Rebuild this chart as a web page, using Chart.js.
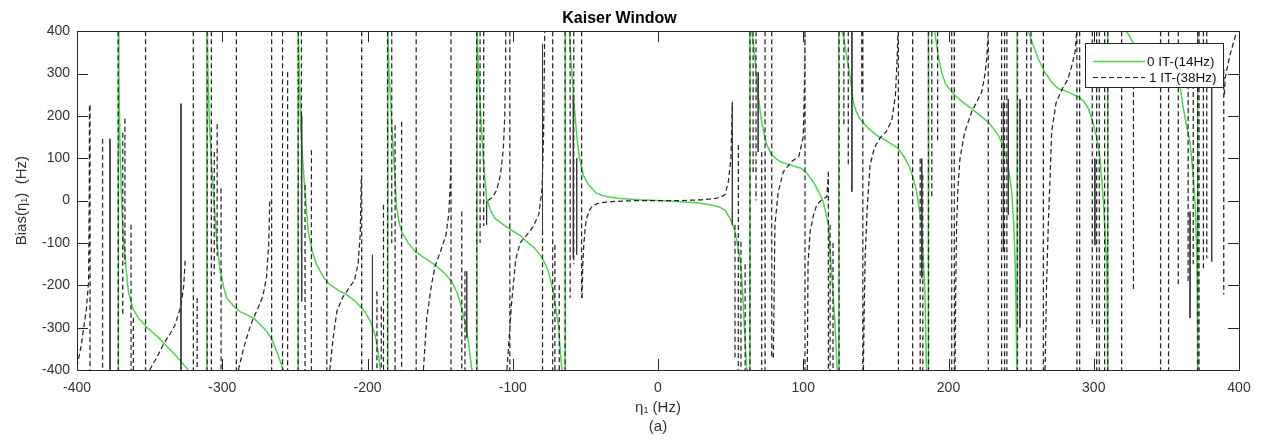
<!DOCTYPE html>
<html>
<head>
<meta charset="utf-8">
<script src="https://cdn.jsdelivr.net/npm/chart.js@4.4.1/dist/chart.umd.min.js"></script>
<style>
  html, body { margin: 0; padding: 0; background: #fff; }
  #plot { display: block; }
</style>
</head>
<body>
<canvas id="plot" width="1269" height="445"></canvas>
<script>
// axis ticks
var xTicks = [-400, -300, -200, -100, 0, 100, 200, 300, 400];
var yTicks = [-400, -300, -200, -100, 0, 100, 200, 300, 400];

// 0 IT-(14Hz): jumps at the poles, then the falling branches between them
var greenPoles = [-371.5, -310.3, -247.7, -186.0, -124.6, -63.8, 63.3, 124.6, 186.2, 247.2, 309.7, 371.6];
var greenCurves = [
  [[-371.4,400],[-371.2,300],[-370.5,150],[-369.5,20],[-368.3,-80],[-366.5,-150],[-364.6,-215],[-361.5,-255],[-357.8,-277],[-353,-295],[-348.6,-309],[-344,-323],[-339.4,-340],[-335,-355],[-330.3,-372],[-323.4,-400]],
  [[-310.2,400],[-309.8,300],[-308.8,180],[-307.5,90],[-306.1,21],[-303.8,-97],[-301.6,-160],[-299,-205],[-296.9,-230],[-292,-250],[-287.8,-262],[-283,-270],[-278.6,-277],[-274,-292],[-269.4,-309],[-265.5,-330],[-262.5,-356],[-258,-400]],
  [[-247.6,400],[-247,300],[-246,180],[-244.5,90],[-243,21],[-240.8,-73],[-238,-120],[-235,-152],[-230,-182],[-225.8,-199],[-220,-212],[-214.3,-222],[-209,-236],[-205,-250],[-201.5,-264],[-198,-285],[-194.8,-316],[-192.5,-360],[-191.2,-400]],
  [[-185.9,400],[-185.2,300],[-184,230],[-183.3,178],[-181.5,80],[-179.9,-18],[-178,-55],[-176.5,-73],[-172,-100],[-167.3,-120],[-160,-137],[-153.5,-152],[-147.5,-170],[-142,-191],[-138,-220],[-135.1,-254],[-132.5,-295],[-130.6,-332],[-128.3,-395],[-128.1,-400]],
  [[-124.5,400],[-123.5,300],[-122,200],[-120.3,99],[-118,5],[-115,-25],[-112.2,-42],[-106,-58],[-100.7,-70],[-95,-82],[-90.4,-97],[-85,-112],[-81.2,-128],[-77.5,-150],[-75.5,-167],[-72.1,-215],[-68.6,-293],[-66.3,-395],[-66.1,-400]],
  [[-61,400],[-60,335],[-58,240],[-56,154],[-54,100],[-51.4,60],[-48,38],[-42.2,17],[-35,9],[-26,5],[-13,2],[0,0],[13,-2],[26,-5],[35,-9],[42,-15],[46,-22],[50,-45],[53,-73],[56.4,-135],[58,-200],[59.4,-293],[61,-395],[61.2,-400]],
  [[64.5,400],[66.8,335],[68.5,260],[71.4,185],[74.5,135],[78.3,107],[84,92],[90,85],[98.9,76],[103,62],[106.9,44],[110.5,22],[113.8,-3],[117.3,-58],[119.6,-175],[121.9,-293],[123.3,-400]],
  [[126.5,400],[127.6,390],[130,340],[132.2,295],[134.5,232],[136.5,210],[139,193],[145,170],[150.6,154],[158,140],[165.5,123],[170,100],[173.5,76],[176,50],[178.1,21],[181.5,-58],[183.8,-215],[184.8,-400]],
  [[190.5,400],[193,340],[195.5,300],[198,275],[204.5,248],[210,232],[216,217],[222,200],[227.4,185],[231,170],[234.3,154],[237.5,130],[240,99],[242,60],[243.5,21],[245,-60],[245.8,-136],[246.5,-250],[247,-371],[247.1,-400]],
  [[255,400],[258,370],[261.8,335],[266.4,303],[271,280],[275.6,264],[281.4,258],[289.3,245],[293,235],[296.3,217],[299,190],[302,150],[304.3,100],[306.6,1],[309,-156],[309.4,-300],[309.6,-400]],
  [[322.6,400],[327,373],[333,352],[340,330],[347,310],[353,292],[359.4,270],[361.7,217],[364,175],[366.3,138],[368.5,60],[370,-20],[371,-136],[371.4,-300],[371.5,-400]]
];

// 1 IT-(38Hz): rising branches
var blackCurves = [
  [[-400,-392],[-397,-340],[-393.5,-255],[-392,-190],[-391.6,0],[-391.4,225]],
  [[-350,-400],[-345,-370],[-340.6,-340],[-336,-315],[-332.5,-293],[-328.5,-250],[-326.5,-200],[-325.5,-140]],
  [[-288.9,-400],[-285,-345],[-281,-300],[-278.6,-278],[-275.5,-255],[-272,-225],[-269.5,-180],[-268,-100],[-267.3,0]],
  [[-226,-400],[-223.5,-320],[-221,-260],[-217,-228],[-213,-208],[-209,-188],[-206.5,-150],[-205,-80],[-204.3,50]],
  [[-161.5,-400],[-159.2,-277],[-156,-200],[-153.5,-155],[-150,-122],[-146,-82],[-144,-30],[-142.8,60],[-142.5,150]],
  [[-117,0],[-114,8],[-111,25],[-108.5,60],[-106.5,120],[-105.5,200],[-105,300],[-104.8,400]],
  [[-104,-400],[-101,-250],[-98,-140],[-95,-100],[-90.5,-82],[-86,-62],[-82,-32],[-79.8,30],[-78.8,150],[-78.3,300],[-78,400]],
  [[-52.3,-230],[-51.8,-150],[-51,-100],[-50,-60],[-49,-40],[-47,-22],[-45,-12],[-40,-5],[-30,-2],[-15,0],[0,0],[15,0],[30,2],[40,5],[44,10],[46.1,14],[48.4,44],[50.2,99],[51.2,233]],
  [[79.4,-371],[80.5,-57],[82.8,21],[86.3,68],[92,92],[97,105],[100,150],[101,300],[101.2,400]],
  [[102.8,-400],[103.3,-150],[104.7,-73],[107,-35],[109.3,-10],[113,3],[116.2,9],[117.3,60]],
  [[141.4,-400],[142,-250],[142.6,-136],[144,-20],[146,84],[149,125],[152.9,148],[157,162],[161,190],[163.5,250],[164.8,350],[165.2,400]],
  [[204.5,-400],[205,-200],[205.6,-57],[206.5,30],[207.9,99],[211,160],[216,210],[222.8,256],[225.2,300],[226.3,335],[227.4,400]],
  [[266.5,-400],[267.5,-200],[268.7,-57],[270,60],[271,162],[274,230],[278,262],[282,285],[285,320],[287.1,350],[288.3,400]],
  [[389.9,250],[390.5,290],[393.5,340],[398.4,400]]
];

// 1 IT-(38Hz): near-vertical jumps [x, from, to]
var blackDashedDrops = [
  [-391,225,-400],[-382.4,146,-400],[-371.6,400,-400],[-367,193,-150],[-368.5,160,-273],[-362.8,-57,-400],[-361.2,-277,-400],
  [-352.8,400,-400],[-319.9,400,-400],[-317.3,-230,-400],[-310.5,400,-400],[-307.5,400,-400],[-305.5,115,-175],[-303.5,180,-130],
  [-300.8,29,-400],[-290.3,400,-400],[-266,400,-400],[-258.5,400,-400],[-255,303,-400],[-247.7,400,-400],[-245.5,400,-130],
  [-243,37,-400],[-238.6,119,-400],[-228,400,-400],[-204,400,-400],[-193.5,-214,-400],[-190.5,-250,-400],[-189,-10,-400],
  [-186.2,400,-400],[-183.3,400,-100],[-181,178,-400],[-176.5,186,-400],[-166.5,400,-400],[-142.5,400,-400],[-135.1,-26,-400],
  [-132.9,-167,-400],[-124.8,400,-400],[-122.5,400,-100],[-120,400,-60],[-102,400,-400],[-79.5,-70,-400],[-72.5,400,-400],
  [-71,-105,-400],[-68,-200,-400],[-64,400,-400],[-60.5,400,-230],[-58,400,-150],[-52.6,400,-230],
  [53,-57,-370],[55.3,131,-400],[57.1,-97,-400],[60,-150,-400],[63.3,400,-400],[65.5,400,60],[67.5,400,0],[71.4,115,-400],
  [73.7,400,-400],[78.3,400,-370],[101.2,400,-400],[117.3,68,-400],[118.5,-57,-400],[120.5,-100,-400],[124.6,400,-400],
  [128,400,177],[131,400,80],[140.3,400,256],[141,400,-400],[165.5,400,-400],[175.3,400,-400],[180.5,99,-400],[182.3,60,-400],
  [186.2,400,-400],[188.5,400,5],[192.5,400,139],[202.2,400,-400],[204,400,-400],[227.4,400,-400],[236.6,400,-400],
  [238.6,400,-400],[240.2,400,-400],[247.5,400,-400],[253.8,400,-400],[256.8,400,-400],[265.3,400,-400],[288.4,400,-400],
  [290.3,400,-400],[299,400,-300],[302,400,-400],[303.8,400,-400],[307.5,400,-400],[309.6,400,-400],[319.2,400,-400],
  [327.3,370,-214],[346,400,-400],[351.5,400,-400],[358.2,400,-200],[365,370,-190],[368.5,370,-150],[371.5,400,-400],
  [372.5,400,-400],[375.5,400,-160],[377.8,400,-136],[389.5,311,-222]
];

// thin solid strokes that show up among the dashes
var blackSolidDrops = [
  [-377.3,146,-400],[-328.4,229,-400],[-245.3,200,-238],[-196.6,-128,-400],[-131.7,-167,-324],[-118,-2,-57],
  [-79.5,370,-70],[-58.3,250,-136],[-56,100,-128],[51.2,233,-57],[69,303,115],[133.5,400,21],[181.6,99,-183],
  [237.8,233,-120],[241.2,240,-34],[249.2,240,-300],[300.8,99,-105],[366.3,-26,-277],[381.2,272,-144]
];

var seriesLabels = ['0 IT-(14Hz)', '1 IT-(38Hz)'];
var greenColor = '#50d350';
var blackColor = '#262626';
var fontFamily = '"Liberation Sans", Arial, Helvetica, sans-serif';

function curvesToPoints(curves, out) {
  curves.forEach(function (c) {
    c.forEach(function (p) { out.push({x: p[0], y: p[1]}); });
    out.push({x: c[c.length - 1][0], y: null});
  });
  return out;
}

function dropsToPoints(drops, out) {
  drops.forEach(function (d) {
    out.push({x: d[0], y: d[1]}, {x: d[0], y: d[2]}, {x: d[0], y: null});
  });
  return out;
}

var greenData = dropsToPoints(greenPoles.map(function (x) { return [x, -400, 400]; }), []);
curvesToPoints(greenCurves, greenData);
var dashedData = curvesToPoints(blackCurves, []);
dropsToPoints(blackDashedDrops, dashedData);
var solidData = dropsToPoints(blackSolidDrops, []);

// MATLAB style box with inward tick marks
var boxPlugin = {
  id: 'box',
  afterDatasetsDraw: function (chart) {
    var ctx = chart.ctx, a = chart.chartArea;
    var xs = chart.scales.x, ys = chart.scales.y;
    var tl = 11;
    ctx.save();
    ctx.strokeStyle = '#262626';
    ctx.lineWidth = 1;
    ctx.beginPath();
    xTicks.forEach(function (v) {
      var px = Math.round(xs.getPixelForValue(v)) + 0.5;
      ctx.moveTo(px, a.bottom); ctx.lineTo(px, a.bottom - tl);
      ctx.moveTo(px, a.top); ctx.lineTo(px, a.top + tl);
    });
    yTicks.forEach(function (v) {
      var py = Math.round(ys.getPixelForValue(v)) + 0.5;
      ctx.moveTo(a.left, py); ctx.lineTo(a.left + tl, py);
      ctx.moveTo(a.right, py); ctx.lineTo(a.right - tl, py);
    });
    ctx.stroke();
    ctx.strokeRect(Math.round(a.left) + 0.5, Math.round(a.top) + 0.5,
      Math.round(a.right - a.left), Math.round(a.bottom - a.top));
    ctx.restore();
  }
};

var legendPlugin = {
  id: 'boxLegend',
  afterDraw: function (chart) {
    var ctx = chart.ctx;
    var x0 = 1085.5, y0 = 43.5, w = 138, h = 44;
    ctx.save();
    ctx.fillStyle = '#fff';
    ctx.fillRect(x0, y0, w, h);
    ctx.strokeStyle = '#262626';
    ctx.lineWidth = 1;
    ctx.strokeRect(x0, y0, w, h);
    ctx.lineWidth = 1.5;
    ctx.strokeStyle = greenColor;
    ctx.beginPath(); ctx.moveTo(1093, 61.5); ctx.lineTo(1145, 61.5); ctx.stroke();
    ctx.lineWidth = 1.2;
    ctx.strokeStyle = blackColor;
    ctx.setLineDash([5, 3]);
    ctx.beginPath(); ctx.moveTo(1093, 77.5); ctx.lineTo(1145, 77.5); ctx.stroke();
    ctx.setLineDash([]);
    ctx.fillStyle = '#111';
    ctx.font = '13.5px ' + fontFamily;
    ctx.textBaseline = 'middle';
    ctx.textAlign = 'left';
    ctx.fillText(seriesLabels[0], 1147, 62);
    ctx.fillText(seriesLabels[1], 1149, 78);
    ctx.restore();
  }
};

new Chart(document.getElementById('plot'), {
  type: 'scatter',
  data: {
    datasets: [
      {
        label: seriesLabels[1] + ' strokes',
        data: solidData,
        showLine: true,
        borderColor: '#3a3a3a',
        borderWidth: 1,
        pointRadius: 0,
        spanGaps: false
      },
      {
        label: seriesLabels[1],
        data: dashedData,
        showLine: true,
        borderColor: blackColor,
        borderWidth: 1.25,
        borderDash: [5, 3],
        pointRadius: 0,
        spanGaps: false
      },
      {
        label: seriesLabels[0],
        data: greenData,
        showLine: true,
        borderColor: greenColor,
        borderWidth: 1.5,
        pointRadius: 0,
        spanGaps: false
      }
    ]
  },
  options: {
    responsive: false,
    animation: false,
    devicePixelRatio: 1,
    events: [],
    layout: { padding: { left: 0, right: 30, top: 0, bottom: 0 } },
    plugins: {
      legend: { display: false },
      tooltip: { enabled: false },
      title: {
        display: true,
        text: 'Kaiser Window',
        color: '#000',
        font: { family: fontFamily, size: 16, weight: 'bold' },
        padding: { top: 9, bottom: 3 }
      }
    },
    scales: {
      x: {
        type: 'linear',
        min: -400,
        max: 400,
        afterFit: function (s) { s.height = 75; },
        afterBuildTicks: function (s) { s.ticks = xTicks.map(function (v) { return {value: v}; }); },
        grid: { display: false, drawTicks: false },
        border: { display: false },
        ticks: { color: '#333', padding: 10, maxRotation: 0, font: { family: fontFamily, size: 14 } },
        title: {
          display: true,
          text: ['\u03b7\u2081 (Hz)', '(a)'],
          color: '#333',
          font: { family: fontFamily, size: 15, lineHeight: 1.3 },
          padding: { top: 0, bottom: 8 }
        }
      },
      y: {
        type: 'linear',
        min: -400,
        max: 400,
        afterFit: function (s) { s.width = 77; },
        afterBuildTicks: function (s) { s.ticks = yTicks.map(function (v) { return {value: v}; }); },
        grid: { display: false, drawTicks: false },
        border: { display: false },
        ticks: { color: '#333', padding: 7, font: { family: fontFamily, size: 14 } },
        title: {
          display: true,
          text: 'Bias(\u03b7\u2081)  (Hz)',
          color: '#333',
          font: { family: fontFamily, size: 15 },
          padding: { top: 13, bottom: 0 }
        }
      }
    }
  },
  plugins: [boxPlugin, legendPlugin]
});
</script>
</body>
</html>
